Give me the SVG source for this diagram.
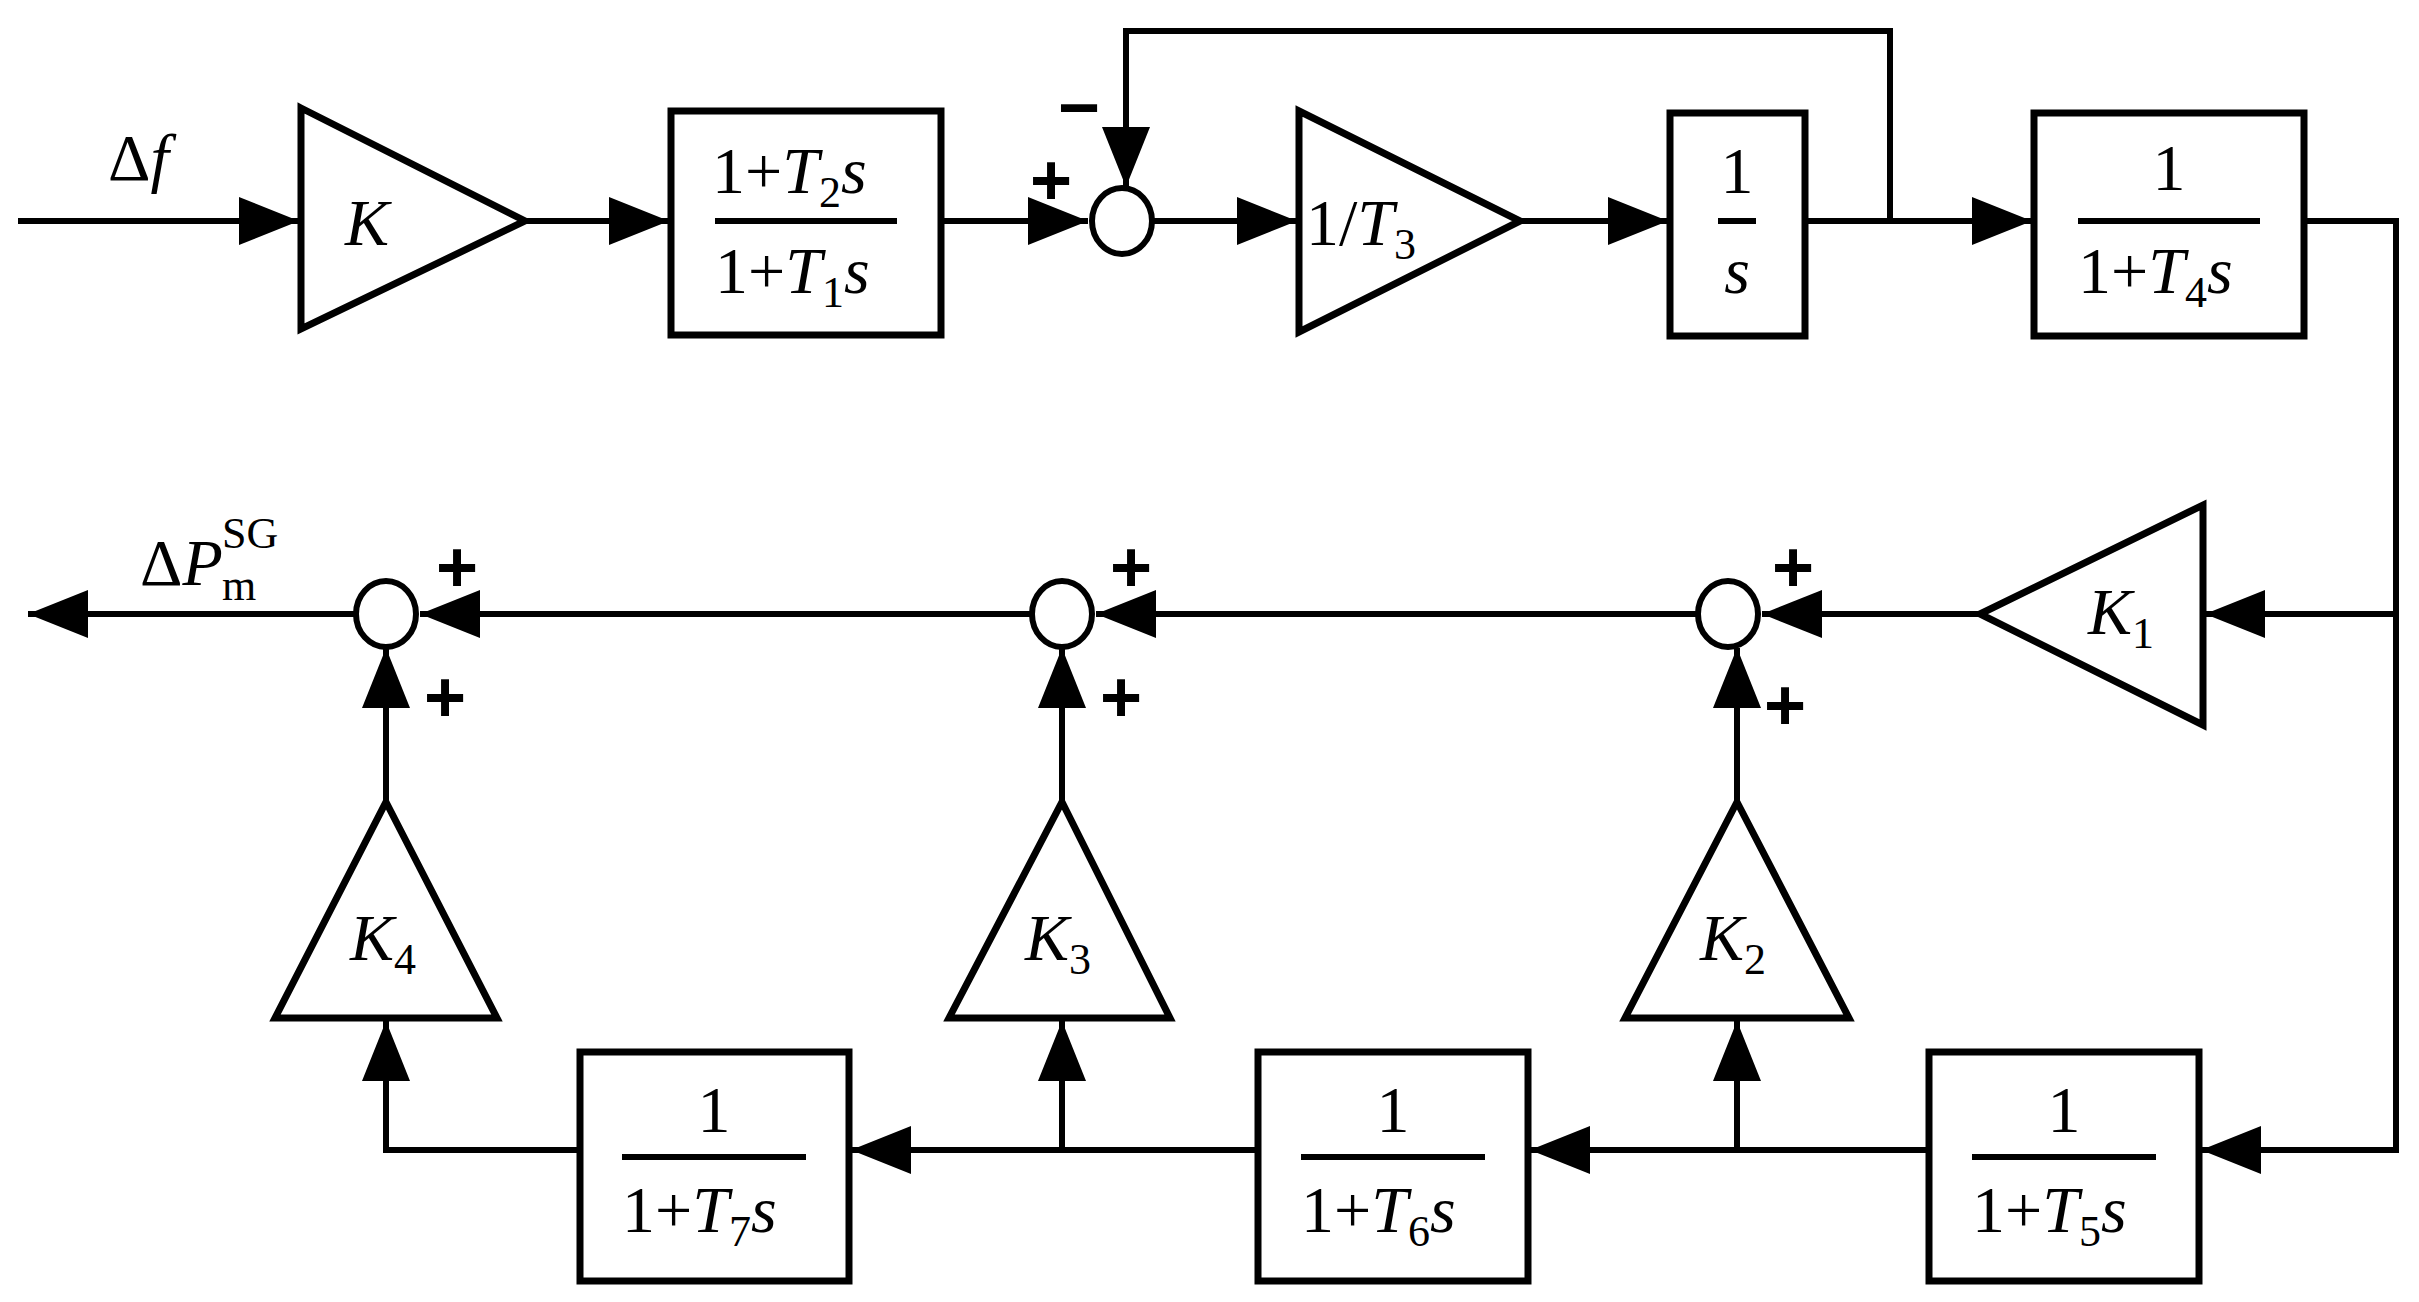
<svg xmlns="http://www.w3.org/2000/svg" width="2419" height="1302" viewBox="0 0 2419 1302">
<style>
.b{fill:#fff;stroke:#000;stroke-width:7}
.l{fill:none;stroke:#000;stroke-width:6}
.t{font-family:"Liberation Serif",serif;font-size:66px;fill:#000}
.i{font-style:italic}
.s{font-size:44px}
.p{font-family:"Liberation Sans",sans-serif;font-weight:bold;font-size:72px}
</style>
<defs>
<marker id="a" markerUnits="userSpaceOnUse" markerWidth="62" markerHeight="48" refX="60" refY="24" orient="auto"><path d="M0,0 L60,24 L0,48 Z" fill="#000"/></marker>
</defs>
<rect width="2419" height="1302" fill="#fff"/>
<g id="connectors" class="l">
<path d="M18,221 H299" marker-end="url(#a)"/>
<path d="M525,221 H669" marker-end="url(#a)"/>
<path d="M941,221 H1088" marker-end="url(#a)"/>
<path d="M1890,221 V31 H1126 V187" marker-end="url(#a)"/>
<path d="M1154,221 H1297" marker-end="url(#a)"/>
<path d="M1520,221 H1668" marker-end="url(#a)"/>
<path d="M1805,221 H2032" marker-end="url(#a)"/>
<path d="M2304,221 H2396 V1150 H2201" marker-end="url(#a)"/>
<path d="M2396,614 H2205" marker-end="url(#a)"/>
<path d="M1980,614 H1762" marker-end="url(#a)"/>
<path d="M1696,614 H1096" marker-end="url(#a)"/>
<path d="M1030,614 H420" marker-end="url(#a)"/>
<path d="M354,614 H28" marker-end="url(#a)"/>
<path d="M1737,802 V648" marker-end="url(#a)"/>
<path d="M1062,802 V648" marker-end="url(#a)"/>
<path d="M386,802 V648" marker-end="url(#a)"/>
<path d="M1929,1150 H1530" marker-end="url(#a)"/>
<path d="M1737,1150 V1021" marker-end="url(#a)"/>
<path d="M1258,1150 H851" marker-end="url(#a)"/>
<path d="M1062,1150 V1021" marker-end="url(#a)"/>
<path d="M580,1150 H386 V1021" marker-end="url(#a)"/>
</g>
<g id="in-label"><text class="t" x="108" y="180">Δ<tspan class="i">f</tspan></text></g>
<g id="K"><path class="b" d="M301,108 L525,221 L301,329 Z"/><text class="t i" x="345" y="245">K</text></g>
<g id="lead"><rect class="b" x="671" y="111" width="270" height="224"/>
<path class="l" d="M715,221 H897"/>
<text class="t" x="712" y="193">1+<tspan class="i">T</tspan><tspan class="s" dy="14">2</tspan><tspan class="i" dy="-14">s</tspan></text>
<text class="t" x="715" y="293">1+<tspan class="i">T</tspan><tspan class="s" dy="14">1</tspan><tspan class="i" dy="-14">s</tspan></text></g>
<g id="sum1"><ellipse class="b" cx="1122" cy="221" rx="30" ry="33" style="stroke-width:6"/>
<text class="p" x="1058" y="132">−</text><text class="p" x="1030" y="205">+</text></g>
<g id="T3"><path class="b" d="M1299,111 L1520,221 L1299,332 Z"/><text class="t" x="1306" y="245">1/<tspan class="i">T</tspan><tspan class="s" dy="14">3</tspan></text></g>
<g id="integ"><rect class="b" x="1670" y="113" width="135" height="223"/><path class="l" d="M1718,221 H1756"/>
<text class="t" x="1737" y="193" text-anchor="middle">1</text><text class="t i" x="1737" y="293" text-anchor="middle">s</text></g>
<g id="T4"><rect class="b" x="2034" y="113" width="270" height="223"/><path class="l" d="M2078,221 H2260"/>
<text class="t" x="2169" y="190" text-anchor="middle">1</text>
<text class="t" x="2078" y="293">1+<tspan class="i">T</tspan><tspan class="s" dy="14">4</tspan><tspan class="i" dy="-14">s</tspan></text></g>
<g id="K1"><path class="b" d="M1980,614 L2203,505 L2203,725 Z"/><text class="t i" x="2088" y="634">K<tspan class="s" dy="14" style="font-style:normal">1</tspan></text></g>
<g id="sum2"><ellipse class="b" cx="1728" cy="614" rx="30" ry="33" style="stroke-width:6"/><text class="p" x="1772" y="592">+</text><text class="p" x="1764" y="730">+</text></g>
<g id="sum3"><ellipse class="b" cx="1062" cy="614" rx="30" ry="33" style="stroke-width:6"/><text class="p" x="1110" y="592">+</text><text class="p" x="1100" y="722">+</text></g>
<g id="sum4"><ellipse class="b" cx="386" cy="614" rx="30" ry="33" style="stroke-width:6"/><text class="p" x="436" y="592">+</text><text class="p" x="424" y="722">+</text></g>
<g id="out-label"><text class="t" x="140" y="585">Δ<tspan class="i">P</tspan></text>
<text class="t s" x="222" y="548">SG</text><text class="t s" x="222" y="600">m</text></g>
<g id="K2"><path class="b" d="M1737,802 L1849,1018 L1625,1018 Z"/><text class="t i" x="1700" y="960">K<tspan class="s" dy="14" style="font-style:normal">2</tspan></text></g>
<g id="K3"><path class="b" d="M1062,802 L1170,1018 L949,1018 Z"/><text class="t i" x="1025" y="960">K<tspan class="s" dy="14" style="font-style:normal">3</tspan></text></g>
<g id="K4"><path class="b" d="M386,802 L497,1018 L275,1018 Z"/><text class="t i" x="350" y="960">K<tspan class="s" dy="14" style="font-style:normal">4</tspan></text></g>
<g id="T5"><rect class="b" x="1929" y="1052" width="270" height="229"/><path class="l" d="M1972,1157 H2156"/>
<text class="t" x="2064" y="1132" text-anchor="middle">1</text>
<text class="t" x="1972" y="1232">1+<tspan class="i">T</tspan><tspan class="s" dy="14">5</tspan><tspan class="i" dy="-14">s</tspan></text></g>
<g id="T6"><rect class="b" x="1258" y="1052" width="270" height="229"/><path class="l" d="M1301,1157 H1485"/>
<text class="t" x="1393" y="1132" text-anchor="middle">1</text>
<text class="t" x="1301" y="1232">1+<tspan class="i">T</tspan><tspan class="s" dy="14">6</tspan><tspan class="i" dy="-14">s</tspan></text></g>
<g id="T7"><rect class="b" x="580" y="1052" width="269" height="229"/><path class="l" d="M622,1157 H806"/>
<text class="t" x="714" y="1132" text-anchor="middle">1</text>
<text class="t" x="622" y="1232">1+<tspan class="i">T</tspan><tspan class="s" dy="14">7</tspan><tspan class="i" dy="-14">s</tspan></text></g>
</svg>
